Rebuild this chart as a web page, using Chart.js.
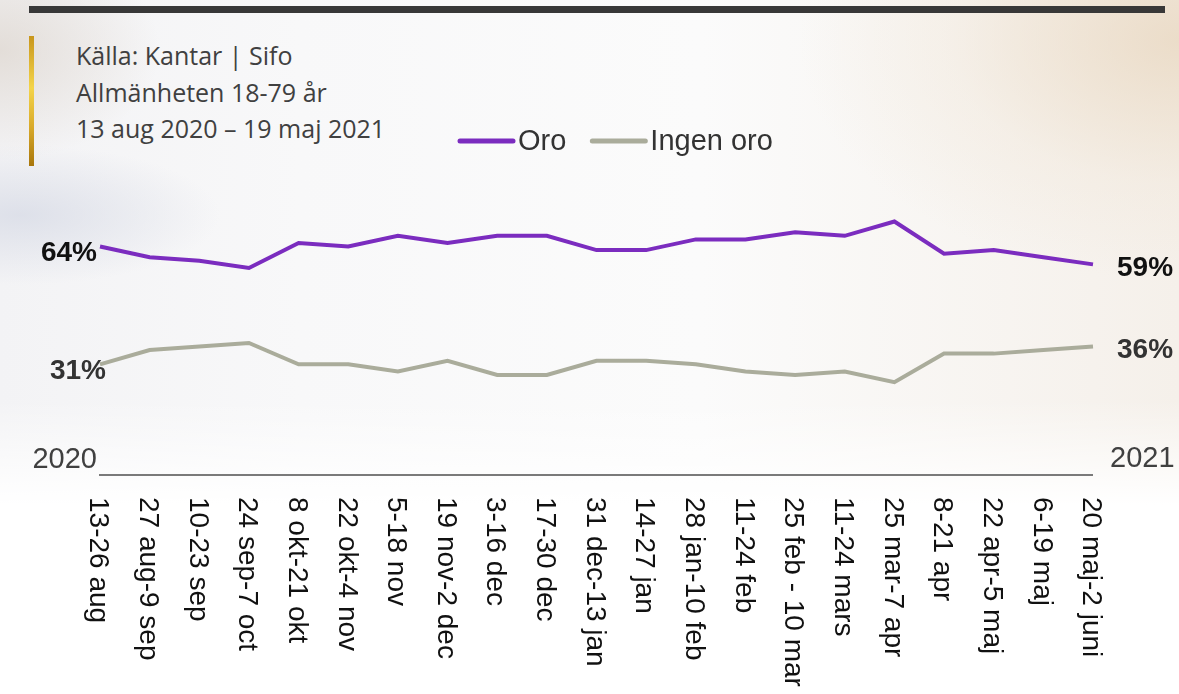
<!DOCTYPE html>
<html>
<head>
<meta charset="utf-8">
<script src="https://cdn.jsdelivr.net/npm/chart.js@4.4.1/dist/chart.umd.min.js"></script>
<style>
  html, body { margin: 0; padding: 0; }
  body { width: 1179px; height: 694px; position: relative; overflow: hidden; background: #ffffff; }
  #bg {
    position: absolute; left: 0; top: 0; width: 1179px; height: 694px;
    background:
      linear-gradient(to bottom, rgba(255,255,255,0) 0px, rgba(255,255,255,0) 400px, rgba(255,255,255,1) 505px),
      radial-gradient(ellipse 380px 240px at 1179px 40px, rgba(232,214,190,0.75), rgba(240,229,214,0.35) 60%, rgba(255,255,255,0) 100%),
      radial-gradient(ellipse 200px 70px at 20px 215px, rgba(212,216,228,0.7), rgba(255,255,255,0) 100%),
      radial-gradient(ellipse 160px 110px at 0px 50px, rgba(220,212,204,0.7), rgba(255,255,255,0) 100%),
      linear-gradient(to right, #f3f3f5 0px, #f8f8f9 300px, #fbfbfb 700px, #f5f0ea 1179px);
  }
  #topbar { position: absolute; left: 29px; top: 6px; width: 1136px; height: 7px; background: #383838; }
  #goldbar { position: absolute; left: 29px; top: 36px; width: 5px; height: 130px;
    background: linear-gradient(to bottom, #c8961c 0%, #f4d44a 40%, #d9aa2a 70%, #a8760c 100%); }
  #source { position: absolute; left: 76px; top: 37px; font-family: "Open Sans", sans-serif; font-size: 25px;
    color: #404040; line-height: 36.5px; white-space: nowrap; }
  #wrap { position: absolute; left: 0; top: 0; width: 1179px; height: 694px; }
</style>
</head>
<body>
<div id="bg"></div>
<div id="topbar"></div>
<div id="goldbar"></div>
<div id="source">Källa: Kantar | Sifo<br>Allmänheten 18-79 år<br>13 aug 2020 – 19 maj 2021</div>
<div id="wrap"><canvas id="c" width="1179" height="694"></canvas></div>
<script>
const categories = ["13-26 aug","27 aug-9 sep","10-23 sep","24 sep-7 oct","8 okt-21 okt","22 okt-4 nov","5-18 nov","19 nov-2 dec","3-16 dec","17-30 dec","31 dec-13 jan","14-27 jan","28 jan-10 feb","11-24 feb","25 feb - 10 mar","11-24 mars","25 mar-7 apr","8-21 apr","22 apr-5 maj","6-19 maj","20 maj-2 juni"];
const oro = [64, 61, 60, 58, 65, 64, 67, 65, 67, 67, 63, 63, 66, 66, 68, 67, 71, 62, 63, 61, 59];
const ingenOro = [31, 35, 36, 37, 31, 31, 29, 32, 28, 28, 32, 32, 31, 29, 28, 29, 26, 34, 34, 35, 36];
const seriesNames = ["Oro", "Ingen oro"];
const yearLabels = ["2020", "2021"];

const FONT = '"Liberation Sans", Arial, sans-serif';

const decor = {
  id: 'decor',
  afterDatasetsDraw(chart) {
    const ctx = chart.ctx;
    const area = chart.chartArea;
    const xs = chart.scales.x;
    ctx.save();
    // axis line
    ctx.strokeStyle = '#7a7a7a';
    ctx.lineWidth = 2;
    ctx.beginPath();
    ctx.moveTo(area.left - 1, area.bottom);
    ctx.lineTo(area.right, area.bottom);
    ctx.stroke();

    // rotated category labels
    ctx.fillStyle = '#111111';
    ctx.font = '28px ' + FONT;
    ctx.textAlign = 'left';
    ctx.textBaseline = 'middle';
    chart.data.labels.forEach((lab, i) => {
      const x = xs.getPixelForValue(i) - 2;
      ctx.save();
      ctx.translate(x, area.bottom + 22);
      ctx.rotate(Math.PI / 2);
      ctx.fillText(lab, 0, 0);
      ctx.restore();
    });

    // years
    ctx.fillStyle = '#404040';
    ctx.font = '29px ' + FONT;
    ctx.textBaseline = 'alphabetic';
    ctx.textAlign = 'right';
    ctx.fillText(yearLabels[0], area.left - 3, area.bottom - 7);
    ctx.textAlign = 'left';
    ctx.fillText(yearLabels[1], area.right + 17, area.bottom - 8);

    // end value labels
    ctx.font = 'bold 28px ' + FONT;
    ctx.textBaseline = 'middle';
    const colorsLeft = ['#111111', '#333333'];
    chart.data.datasets.forEach((ds, d) => {
      const meta = chart.getDatasetMeta(d);
      const first = meta.data[0];
      const last = meta.data[meta.data.length - 1];
      ctx.fillStyle = colorsLeft[d];
      ctx.textAlign = 'right';
      ctx.fillText(ds.data[0] + '%', first.x + (d === 0 ? -3 : 6), first.y + 7);
      ctx.textAlign = 'left';
      ctx.fillText(ds.data[ds.data.length - 1] + '%', last.x + 24, last.y + 4);
    });

    // legend
    ctx.font = '29px ' + FONT;
    ctx.textAlign = 'left';
    ctx.textBaseline = 'middle';
    let lx = 460;
    const ly = 141;
    chart.data.datasets.forEach((ds) => {
      ctx.strokeStyle = ds.borderColor;
      ctx.lineWidth = 5;
      ctx.lineCap = 'round';
      ctx.beginPath();
      ctx.moveTo(lx, ly);
      ctx.lineTo(lx + 53, ly);
      ctx.stroke();
      ctx.fillStyle = '#333333';
      ctx.fillText(ds.label, lx + 58, ly + 1);
      lx += 58 + ctx.measureText(ds.label).width + 26;
    });
    ctx.restore();
  }
};

new Chart(document.getElementById('c'), {
  type: 'line',
  data: {
    labels: categories,
    datasets: [
      { label: seriesNames[0], data: oro, borderColor: '#7b2cbf', backgroundColor: '#7b2cbf', borderWidth: 4, pointRadius: 0, tension: 0, fill: false },
      { label: seriesNames[1], data: ingenOro, borderColor: '#aaac9b', backgroundColor: '#aaac9b', borderWidth: 4, pointRadius: 0, tension: 0, fill: false }
    ]
  },
  options: {
    responsive: false,
    animation: false,
    events: [],
    layout: { padding: { left: 100, right: 86, top: 118, bottom: 219 } },
    plugins: { legend: { display: false }, tooltip: { enabled: false } },
    scales: {
      x: { display: false, offset: false },
      y: { display: false, min: 0, max: 100 }
    }
  },
  plugins: [decor]
});
</script>
</body>
</html>
